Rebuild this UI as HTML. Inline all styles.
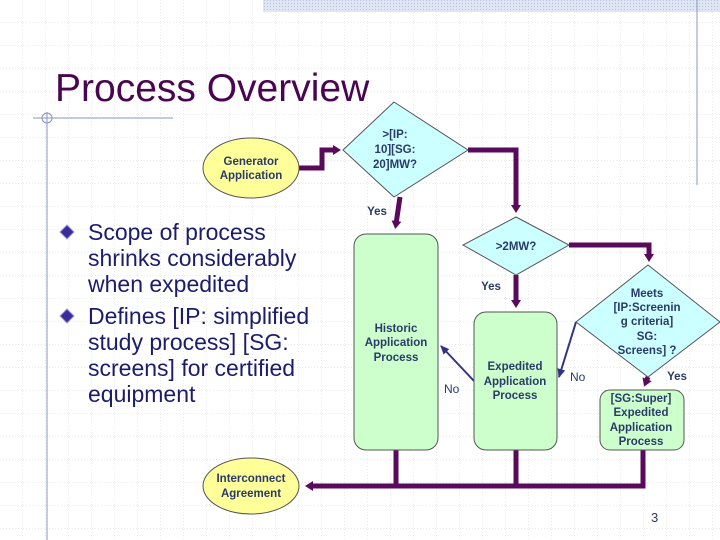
<!DOCTYPE html>
<html><head><style>
html,body{margin:0;padding:0;width:720px;height:540px;overflow:hidden;background:#fff}
svg{display:block}
</style></head><body>
<svg width="720" height="540" xmlns="http://www.w3.org/2000/svg" font-family="Liberation Sans, sans-serif">
<defs>
<pattern id="grid" width="23" height="23" patternUnits="userSpaceOnUse">
<path d="M23 0V23M0 23H23" stroke="#d4d4d4" stroke-width="1" stroke-dasharray="1,2" fill="none"/>
</pattern>
<pattern id="hatch" width="3" height="3" patternUnits="userSpaceOnUse">
<rect width="3" height="3" fill="#dfe6f3"/><rect width="1" height="1" fill="#b8c4dc"/>
</pattern>
<marker id="ap" markerWidth="10" markerHeight="10" refX="3" refY="5" orient="auto" markerUnits="userSpaceOnUse"><path d="M0,0L8,5L0,10z" fill="#5a0a5a"/></marker>
<marker id="an" markerWidth="10" markerHeight="10" refX="8" refY="5" orient="auto" markerUnits="userSpaceOnUse"><path d="M0,1L9,5L0,9z" fill="#333380"/></marker>
</defs>
<rect width="720" height="540" fill="url(#grid)"/>
<rect x="263" y="0" width="457" height="12" fill="url(#hatch)"/>
<line x1="697" y1="0" x2="697" y2="185" stroke="#8a94c4" stroke-width="1"/>
<text x="55" y="101" font-size="39" fill="#4a0550">Process Overview</text>
<line x1="33" y1="118" x2="173" y2="118" stroke="#8a94c4"/>
<line x1="47" y1="112" x2="47" y2="540" stroke="#8a94c4"/>
<circle cx="47" cy="118" r="5" fill="none" stroke="#8a94c4"/>
<g font-size="23" fill="#1c1c6c">
<text x="88" y="240">Scope of process</text>
<text x="88" y="266">shrinks considerably</text>
<text x="88" y="292">when expedited</text>
<text x="88" y="324">Defines [IP: simplified</text>
<text x="88" y="350">study process] [SG:</text>
<text x="88" y="376">screens] for certified</text>
<text x="88" y="402">equipment</text>
</g>
<path d="M67 225l7 7-7 7-7-7z" fill="#3a2a9a" stroke="#9999dd"/>
<path d="M67 309l7 7-7 7-7-7z" fill="#3a2a9a" stroke="#9999dd"/>
<g stroke="#5a0a5a" stroke-width="5" fill="none">
<path d="M299 168H322V150H336" marker-end="url(#ap)"/>
<path d="M468 150H516V208" marker-end="url(#ap)"/>
<path d="M400 197L396 224" marker-end="url(#ap)"/>
<path d="M516 275V303" marker-end="url(#ap)"/>
<path d="M569 245H649V257" marker-end="url(#ap)"/>
<path d="M648 377L646 382" marker-end="url(#ap)"/>
<path d="M396 450V486M516 450V486M643 450V486H312" />
</g>
<path d="M320 486H310" stroke="#5a0a5a" stroke-width="5" marker-end="url(#ap)"/>
<g stroke="#333380" stroke-width="2" fill="none">
<path d="M576 322L559 377" marker-end="url(#an)"/>
<path d="M474 381L441 346" marker-end="url(#an)"/>
</g>
<g stroke="#555" stroke-width="1">
<ellipse cx="251" cy="168" rx="48" ry="30" fill="#ffff99"/>
<ellipse cx="251" cy="486" rx="48" ry="28" fill="#ffff99"/>
<path d="M394 102L468 150L394 197L343 150z" fill="#ccffff"/>
<path d="M516 217L569 245L516 275L463 245z" fill="#ccffff"/>
<path d="M648 265L720 322L648 377L576 322z" fill="#ccffff"/>
<rect x="354" y="234" width="84" height="216" rx="12" fill="#ccffcc"/>
<rect x="474" y="312" width="83" height="138" rx="12" fill="#ccffcc"/>
<rect x="600" y="390" width="84" height="60" rx="10" fill="#ccffcc"/>
</g>
<g font-size="11.5" font-weight="bold" fill="#2a3a6a" text-anchor="middle">
<text x="251" y="165">Generator</text><text x="251" y="179">Application</text>
<text x="251" y="482">Interconnect</text><text x="251" y="497">Agreement</text>
<text x="395" y="138">&gt;[IP:</text><text x="395" y="153">10][SG:</text><text x="395" y="168">20]MW?</text>
<text x="516" y="250">&gt;2MW?</text>
<text x="647" y="297">Meets</text><text x="647" y="311">[IP:Screenin</text><text x="647" y="325">g criteria]</text><text x="647" y="340">SG:</text><text x="647" y="354">Screens] ?</text>
<text x="396" y="332">Historic</text><text x="396" y="346">Application</text><text x="396" y="361">Process</text>
<text x="515" y="370">Expedited</text><text x="515" y="385">Application</text><text x="515" y="399">Process</text>
<text x="641" y="402">[SG:Super]</text><text x="641" y="416">Expedited</text><text x="641" y="431">Application</text><text x="641" y="445">Process</text>
<text x="377" y="215">Yes</text><text x="491" y="290">Yes</text><text x="677" y="380">Yes</text>
</g>
<g font-size="12" fill="#2a3a6a">
<text x="444" y="393">No</text><text x="570" y="381">No</text>
<text x="651" y="522" font-size="13">3</text>
</g>
</svg>
</body></html>
